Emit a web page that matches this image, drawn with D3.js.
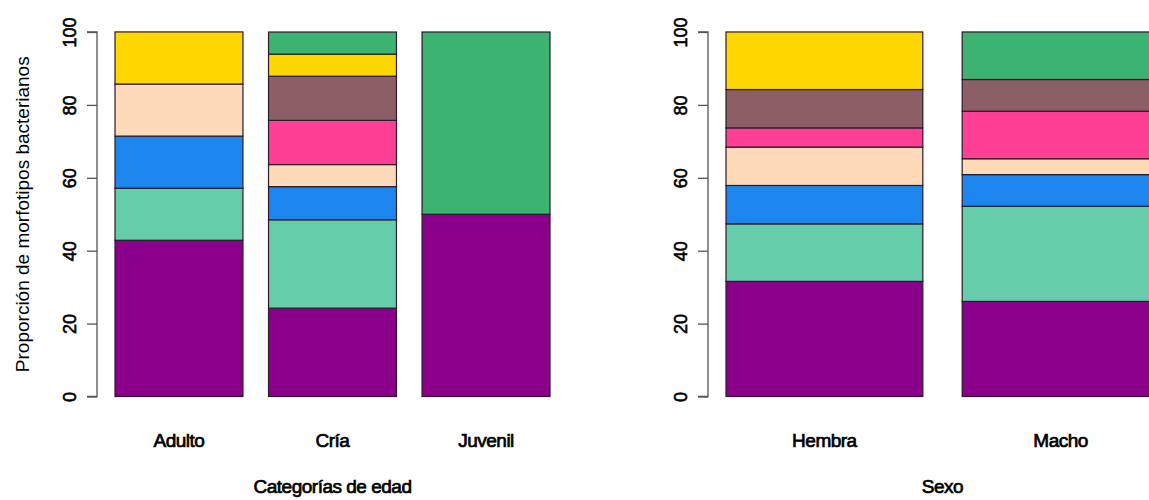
<!DOCTYPE html>
<html>
<head>
<meta charset="utf-8">
<script src="https://cdn.jsdelivr.net/npm/d3@7"></script>
<style>
  body { margin: 0; background: #fff; }
  svg text { font-family: "Liberation Sans", Arial, sans-serif; fill: #000; }
</style>
</head>
<body>
<svg id="chart" width="1149" height="500"></svg>
<script>
// ---- data ----
const seriesNames = ["s1", "s2", "s3", "s4", "s5", "s6", "s7", "s8"];
const seriesColors = ["#8B008B", "#66CDAA", "#1C86EE", "#FFDAB9", "#FF3E96", "#8B5F65", "#FFD700", "#3CB371"];

const edadCategories = ["Adulto", "Cría", "Juvenil"];
const adultoValues  = [42.86, 14.29, 14.29, 14.29, 0, 0, 14.29, 0];
const criaValues    = [24.24, 24.24, 9.09, 6.06, 12.12, 12.12, 6.06, 6.06];
const juvenilValues = [50, 0, 0, 0, 0, 0, 0, 50];

const sexoCategories = ["Hembra", "Macho"];
const hembraValues = [31.58, 15.79, 10.53, 10.53, 5.26, 10.53, 15.79, 0];
const machoValues  = [26.09, 26.09, 8.70, 4.35, 13.04, 8.70, 0, 13.04];

const yTicks = [0, 20, 40, 60, 80, 100];
const yTitle = "Proporción de morfotipos bacterianos";
const xTitleEdad = "Categorías de edad";
const xTitleSexo = "Sexo";

// ---- drawing ----
const svg = d3.select("#chart");
const FS = 19;

function panel(cfg) {
  const g = svg.append("g");
  const x = d3.scaleBand().domain(cfg.categories).range(cfg.xRange)
    .paddingInner(1 / 6).paddingOuter(0);
  const y = d3.scaleLinear().domain([0, 100]).range([396.5, 32]);

  cfg.categories.forEach((cat, i) => {
    const vals = cfg.values[i];
    let cum = 0;
    vals.forEach((v, k) => {
      if (v <= 0) return;
      const y0 = cum, y1 = cum + v;
      cum = y1;
      g.append("rect")
        .attr("x", x(cat))
        .attr("width", x.bandwidth())
        .attr("y", y(y1))
        .attr("height", y(y0) - y(y1))
        .attr("fill", seriesColors[k])
        .attr("stroke", "#2a1a2a")
        .attr("stroke-width", 1.2);
    });
  });

  // y axis
  const axis = d3.axisLeft(y).tickValues(yTicks).tickSize(10).tickPadding(0).tickFormat(d3.format("d"));
  const ag = g.append("g").attr("transform", `translate(${cfg.axisX},0)`).call(axis);
  ag.select(".domain").attr("stroke", "#555").attr("stroke-width", 1.3)
    .attr("d", `M-10,${y(0)}H0V${y(100)}H-10`);
  ag.selectAll(".tick line").attr("stroke", "#555").attr("stroke-width", 1.3);
  ag.selectAll(".tick text")
    .attr("x", 0).attr("y", 0)
    .attr("transform", "translate(-21,0) rotate(-90)")
    .attr("text-anchor", "middle")
    .attr("dy", 0)
    .style("font-size", "18px")
    .style("font-family", "'Liberation Sans', Arial, sans-serif")
    .attr("fill", "#000").attr("stroke", "#000").attr("stroke-width", 0.6);

  // category labels
  cfg.categories.forEach(cat => {
    g.append("text")
      .attr("x", x(cat) + x.bandwidth() / 2)
      .attr("y", 447)
      .attr("text-anchor", "middle")
      .style("font-size", FS + "px")
      .attr("stroke", "#000").attr("stroke-width", 0.7)
      .attr("letter-spacing", "-0.5")
      .text(cat);
  });

  // x title centred on plot region
  g.append("text")
    .attr("x", (cfg.xRange[0] + cfg.xRange[1]) / 2)
    .attr("y", 493)
    .attr("text-anchor", "middle")
    .style("font-size", FS + "px")
    .attr("stroke", "#000").attr("stroke-width", 0.7)
    .attr("letter-spacing", "-0.5")
    .text(cfg.xTitle);

  if (cfg.yTitle) {
    g.append("text")
      .attr("transform", `translate(29,${(y(0) + y(100)) / 2}) rotate(-90)`)
      .attr("text-anchor", "middle")
      .style("font-size", "19px")
      .attr("fill", "#222")
      .text(cfg.yTitle);
  }
}

panel({
  categories: edadCategories,
  values: [adultoValues, criaValues, juvenilValues],
  xRange: [115, 550],
  axisX: 97,
  xTitle: xTitleEdad,
  yTitle: yTitle
});

panel({
  categories: sexoCategories,
  values: [hembraValues, machoValues],
  xRange: [726, 1159],
  axisX: 708,
  xTitle: xTitleSexo,
  yTitle: null
});
</script>
</body>
</html>
